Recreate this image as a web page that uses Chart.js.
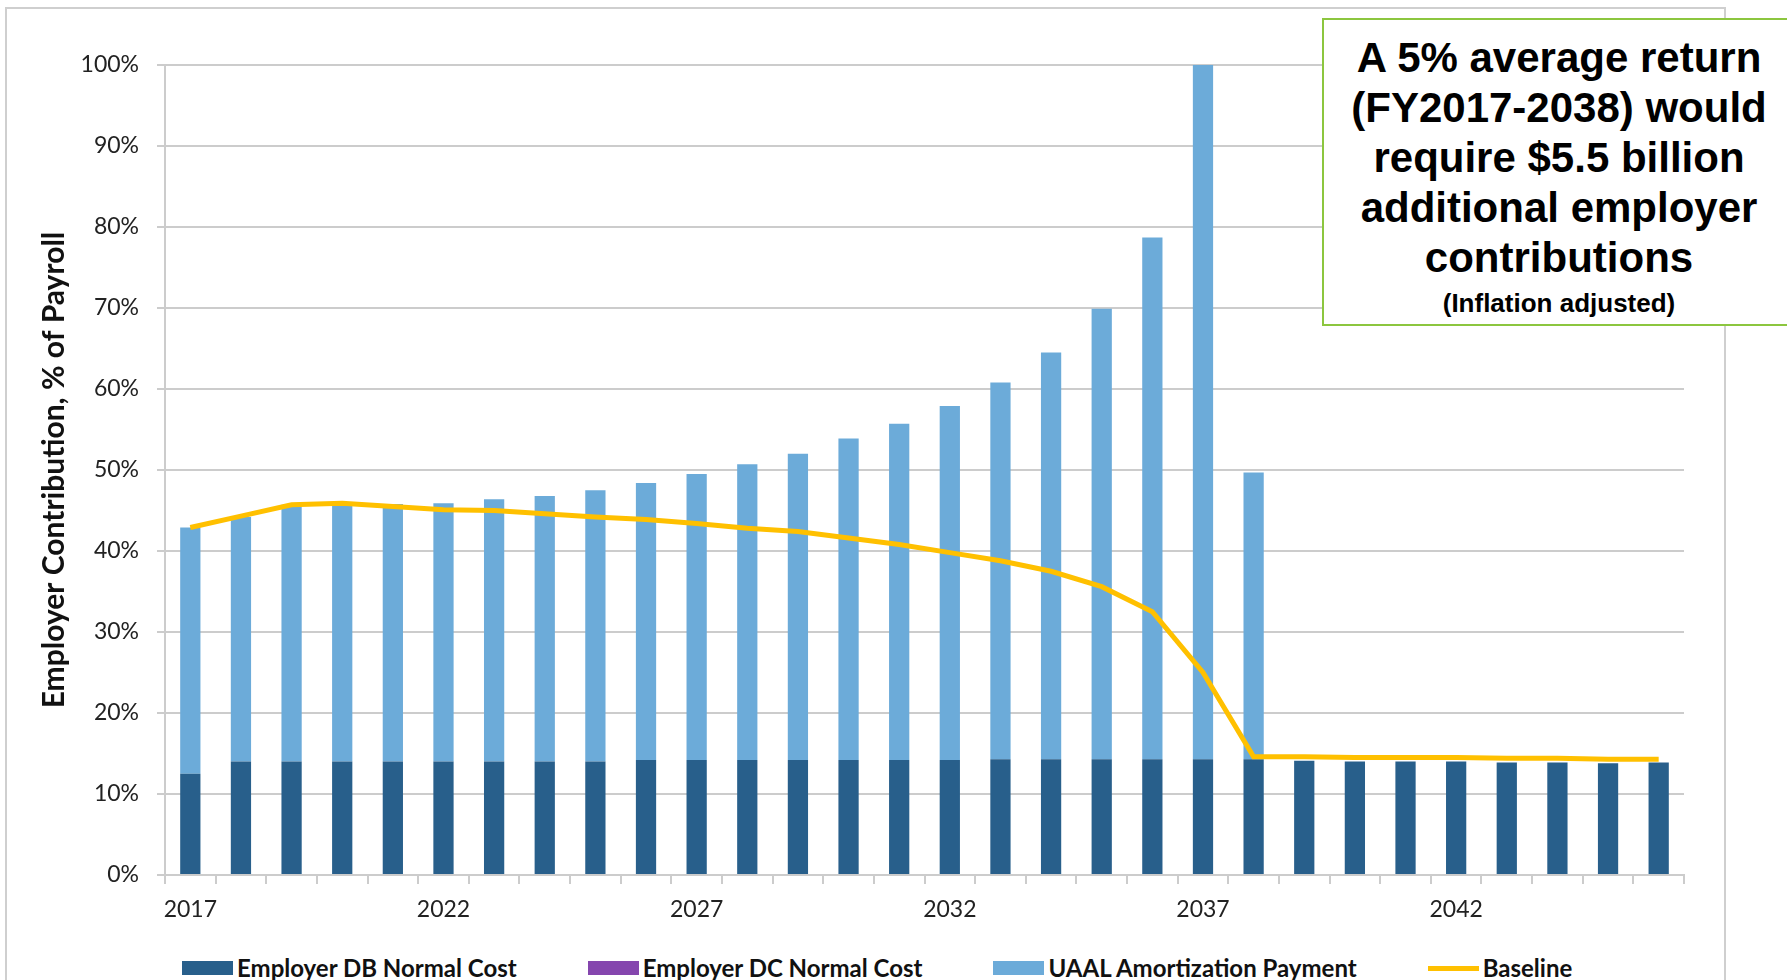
<!DOCTYPE html>
<html>
<head>
<meta charset="utf-8">
<title>Employer Contribution, % of Payroll</title>
<script src="https://cdn.jsdelivr.net/npm/chart.js@4.4.1/dist/chart.umd.min.js"></script>
<style>
  html, body { margin: 0; padding: 0; background: #fff; }
  body { width: 1787px; height: 980px; overflow: hidden; position: relative; }
  #frame { position: absolute; left: 5px; top: 7px; width: 1717px; height: 1000px; border: 2px solid #cfcfcf; }
  #chart { position: absolute; left: 0; top: 0; }
  #legend { position: absolute; left: 182px; top: 954px; display: flex; align-items: center; gap: 71px;
            font: bold 24px Lato, sans-serif; line-height: 28px; color: #111; }
  #legend .item { display: flex; align-items: center; }
  #legend .swatch { width: 51px; height: 14px; margin-right: 4px; }
  #legend .swatch.line { height: 5px; }
  #note { position: absolute; left: 1322px; top: 18px; width: 470px; height: 291px; padding-top: 13px;
          border: 2px solid #8cc63f; background: #fff; text-align: center; color: #000;
          font-family: "Liberation Sans", Arial, sans-serif; font-weight: bold; }
  #note .big { font-size: 42px; line-height: 50px; }
  #note .small { font-size: 26px; line-height: 30px; margin-top: 5px; }
</style>
</head>
<body>
<div id="frame"></div>
<canvas id="chart" width="1787" height="930"></canvas>
<div id="legend"></div>
<div id="note">
  <div class="big">A 5% average return<br>(FY2017-2038) would<br>require $5.5 billion<br>additional employer<br>contributions</div>
  <div class="small">(Inflation adjusted)</div>
</div>
<script>
// fiscal years 2017-2046
const years = [
  '2017', '2018', '2019', '2020', '2021', '2022', '2023', '2024', '2025', '2026',
  '2027', '2028', '2029', '2030', '2031', '2032', '2033', '2034', '2035', '2036',
  '2037', '2038', '2039', '2040', '2041', '2042', '2043', '2044', '2045', '2046'
];

// % of payroll
const dbNormalCost = [
  12.5, 14.0, 14.0, 14.0, 14.0, 14.0, 14.0, 14.0, 14.0, 14.2,
  14.2, 14.2, 14.2, 14.2, 14.2, 14.2, 14.3, 14.3, 14.3, 14.3,
  14.3, 14.3, 14.1, 14.0, 14.0, 14.0, 13.9, 13.9, 13.8, 13.9
];
const dcNormalCost = [
  0, 0, 0, 0, 0, 0, 0, 0, 0, 0,
  0, 0, 0, 0, 0, 0, 0, 0, 0, 0,
  0, 0, 0, 0, 0, 0, 0, 0, 0, 0
];
const uaalPayment = [
  30.4, 30.2, 31.7, 31.8, 31.8, 31.9, 32.4, 32.8, 33.5, 34.2,
  35.3, 36.5, 37.8, 39.7, 41.5, 43.7, 46.5, 50.2, 55.6, 64.4,
  85.7, 35.4, 0, 0, 0, 0, 0, 0, 0, 0
];
const baseline = [
  42.9, 44.3, 45.7, 45.9, 45.5, 45.1, 45.0, 44.6, 44.2, 43.9,
  43.4, 42.8, 42.4, 41.6, 40.8, 39.8, 38.8, 37.5, 35.6, 32.5,
  25.0, 14.6, 14.6, 14.5, 14.5, 14.5, 14.4, 14.4, 14.3, 14.3
];

const yTicks = [0, 10, 20, 30, 40, 50, 60, 70, 80, 90, 100];

const GRID = '#cccccc';

Chart.defaults.font.family = 'Lato, sans-serif';
Chart.defaults.color = '#222';

const chart = new Chart(document.getElementById('chart'), {
  type: 'bar',
  data: {
    labels: years,
    datasets: [
      {
        type: 'line',
        label: 'Baseline',
        data: baseline,
        stack: 'baseline',
        borderColor: '#ffc000',
        backgroundColor: '#ffc000',
        borderWidth: 5,
        pointRadius: 0,
        tension: 0,
        order: 0
      },
      {
        label: 'Employer DB Normal Cost',
        data: dbNormalCost,
        backgroundColor: '#285f8b',
        order: 1
      },
      {
        label: 'Employer DC Normal Cost',
        data: dcNormalCost,
        backgroundColor: '#8546ae',
        order: 1
      },
      {
        label: 'UAAL Amortization Payment',
        data: uaalPayment,
        backgroundColor: '#6cabd9',
        order: 1
      }
    ]
  },
  options: {
    responsive: false,
    animation: false,
    barPercentage: 0.4,
    categoryPercentage: 1,
    layout: { padding: { left: 20, right: 103, top: 65, bottom: 5 } },
    plugins: {
      legend: { display: false },
      tooltip: { enabled: false }
    },
    scales: {
      x: {
        stacked: true,
        afterFit: (s) => { s.height = 50; },
        grid: { drawOnChartArea: false, offset: true, tickLength: 9, color: GRID, lineWidth: 2 },
        border: { color: GRID, width: 2 },
        ticks: {
          autoSkip: false,
          maxRotation: 0,
          padding: 12,
          font: { size: 23 },
          callback: (v, i) => (i % 5 === 0 ? years[i] : '')
        }
      },
      y: {
        stacked: true,
        min: 0,
        max: 100,
        afterFit: (s) => { s.width = 145; },
        afterBuildTicks: (s) => { s.ticks = yTicks.map((v) => ({ value: v })); },
        grid: { tickLength: 8, color: GRID, lineWidth: 2 },
        border: { color: GRID, width: 2 },
        ticks: {
          padding: 18,
          font: { size: 23 },
          callback: (v) => v + '%'
        },
        title: {
          display: true,
          text: 'Employer Contribution, % of Payroll',
          color: '#111',
          font: { size: 30, weight: 'bold' },
          padding: { top: 16, bottom: 0 }
        }
      }
    }
  }
});

// legend row below the plot, in the order the series appear
const legendOrder = [1, 2, 3, 0];
const legendEl = document.getElementById('legend');
legendOrder.forEach((idx) => {
  const ds = chart.data.datasets[idx];
  const item = document.createElement('div');
  item.className = 'item';
  const sw = document.createElement('span');
  sw.className = 'swatch' + (ds.type === 'line' ? ' line' : '');
  sw.style.background = ds.type === 'line' ? ds.borderColor : ds.backgroundColor;
  const txt = document.createElement('span');
  txt.textContent = ds.label;
  item.appendChild(sw);
  item.appendChild(txt);
  legendEl.appendChild(item);
});
</script>
</body>
</html>
